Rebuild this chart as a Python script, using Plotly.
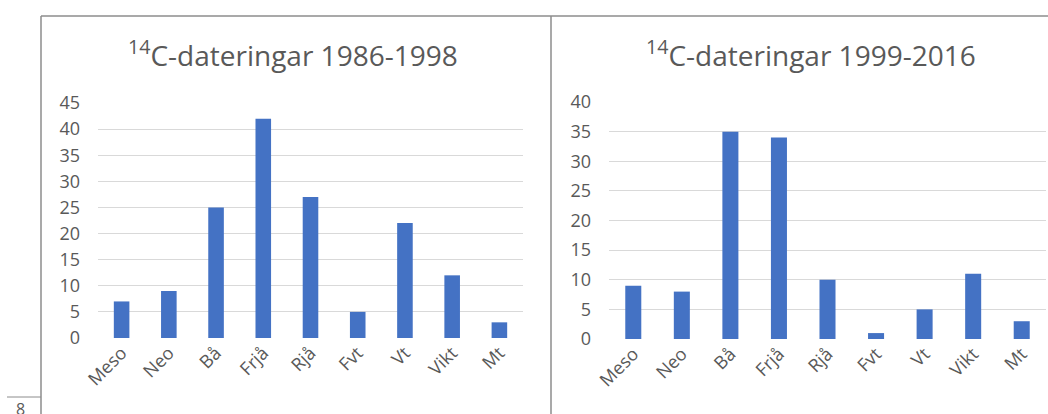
import plotly.graph_objects as go

categories = ["Meso", "Neo", "Bå", "Frjå", "Rjå", "Fvt", "Vt", "Vikt", "Mt"]
values_1986_1998 = [7, 9, 25, 42, 27, 5, 22, 12, 3]
values_1999_2016 = [9, 8, 35, 34, 10, 1, 5, 11, 3]
title_left = "<sup>14</sup>C-dateringar 1986-1998"
title_right = "<sup>14</sup>C-dateringar 1999-2016"

W, H = 1048, 414
FONT = "Open Sans, sans-serif"
TXT = "#595959"
BAR = "#4472C4"
GRID = "#d9d9d9"
BORDER = "#8c8c8c"

def px_x(x):
    return x / W

def px_y(y):
    return (H - y) / H

fig = go.Figure()
fig.add_trace(go.Bar(x=categories, y=values_1986_1998, marker_color=BAR,
                     xaxis="x", yaxis="y", showlegend=False))
fig.add_trace(go.Bar(x=categories, y=values_1999_2016, marker_color=BAR,
                     xaxis="x2", yaxis="y2", showlegend=False))

xcommon = dict(showgrid=False, zeroline=False, showline=False, tickangle=-45,
               tickfont=dict(family=FONT, size=18, color=TXT), ticks="",
               automargin=False)
ycommon = dict(showgrid=True, gridcolor=GRID, gridwidth=1, zeroline=False,
               showline=False, dtick=5, tickfont=dict(family=FONT, size=18, color=TXT),
               ticks="", ticklabelstandoff=17, automargin=False)

fig.update_layout(
    template="none",
    width=W, height=H,
    margin=dict(l=0, r=0, t=0, b=0, pad=0),
    paper_bgcolor="white", plot_bgcolor="white",
    bargap=0.67,
    xaxis=dict(domain=[px_x(98), px_x(523)], anchor="y", **xcommon),
    yaxis=dict(domain=[px_y(338), px_y(103)], range=[0, 45], anchor="x", **ycommon),
    xaxis2=dict(domain=[px_x(609), px_x(1046)], anchor="y2", **xcommon),
    yaxis2=dict(domain=[px_y(339), px_y(102)], range=[0, 40], anchor="x2", **ycommon),
    annotations=[
        dict(text=title_left, x=px_x(293), y=px_y(53), xref="paper", yref="paper",
             xanchor="center", yanchor="middle",
             showarrow=False, font=dict(family=FONT, size=28, color=TXT)),
        dict(text=title_right, x=px_x(811), y=px_y(53), xref="paper", yref="paper",
             xanchor="center", yanchor="middle",
             showarrow=False, font=dict(family=FONT, size=28, color=TXT)),
        dict(text="8", x=px_x(20), y=px_y(409), xref="paper", yref="paper",
             xanchor="center", yanchor="middle",
             showarrow=False, font=dict(family=FONT, size=16, color=TXT)),
    ],
    shapes=[
        dict(type="line", xref="paper", yref="paper", x0=px_x(41), x1=1, y0=px_y(16), y1=px_y(16),
             line=dict(color=BORDER, width=1.5)),
        dict(type="line", xref="paper", yref="paper", x0=px_x(41), x1=px_x(41), y0=px_y(16), y1=0,
             line=dict(color=BORDER, width=1.5)),
        dict(type="line", xref="paper", yref="paper", x0=px_x(551), x1=px_x(551), y0=px_y(16), y1=0,
             line=dict(color=BORDER, width=1.5)),
        dict(type="line", xref="paper", yref="paper", x0=px_x(7), x1=px_x(41), y0=px_y(397), y1=px_y(397),
             line=dict(color=BORDER, width=1)),
    ],
)

fig.write_html("out.html", config={"displayModeBar": False},
               post_script="document.body.style.margin='0';document.body.style.overflow='hidden';")
